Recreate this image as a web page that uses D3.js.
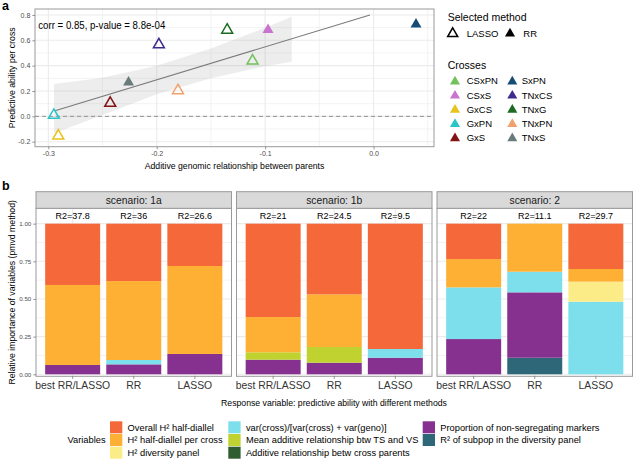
<!DOCTYPE html>
<html><head><meta charset="utf-8">
<script src="https://cdn.jsdelivr.net/npm/d3@7"></script>
<style>
html,body{margin:0;padding:0;background:#fff;}
text{font-family:"Liberation Sans",Arial,Helvetica,sans-serif;}
</style></head>
<body><div id="chart"></div>
<script>
// ---------------- Panel a data ----------------
const crosses = ["CSxPN","CSxS","GxCS","GxPN","GxS","SxPN","TNxCS","TNxG","TNxPN","TNxS"];
const crossColors = ["#72c15a","#c874cf","#e7c31d","#28c5c9","#821416","#164c74","#402b8d","#1d6b23","#f1a26c","#6a7b7b"];
const relationship = [-0.1116,-0.0973,-0.2908,-0.2949,-0.2429,0.0392,-0.198,-0.135,-0.1804,-0.226];
const predAbility = [0.438,0.683,-0.154,0.009,0.104,0.726,0.566,0.681,0.204,0.269];
const selectedMethod = ["LASSO","RR","LASSO","LASSO","LASSO","RR","LASSO","LASSO","LASSO","RR"];
const fitX = [-0.2938,-0.0033];
const fitY = [0.044,0.80];
const ribbonX = [-0.2947,-0.25,-0.2,-0.15,-0.1,-0.0755];
const ribbonLower = [-0.134,0.01,0.175,0.30,0.395,0.431];
const ribbonUpper = [0.255,0.305,0.40,0.535,0.70,0.786];
const xTicksA = [-0.3,-0.2,-0.1,0.0];
const yTicksA = [-0.2,0.0,0.2,0.4,0.6,0.8];
const corrLabel = "corr = 0.85, p-value = 8.8e-04";

// ---------------- Panel b data ----------------
const scenarios = ["scenario: 1a","scenario: 1b","scenario: 2"];
const methods = ["best RR/LASSO","RR","LASSO"];
const r2Values = [[37.8,36,26.6],[21,24.5,9.5],[22,11.1,29.7]];
const variables = ["Overall H² half-diallel","H² half-diallel per cross","H² diversity panel",
  "var(cross)/[var(cross) + var(geno)]","Mean additive relationship btw TS and VS",
  "Additive relationship betw cross parents","Proportion of non-segregating markers",
  "R² of subpop in the diversity panel"];
const varColors = ["#f4683a","#fdb033","#fbec88","#7cdfeb","#bfd22f","#2f5d31","#86318f","#2e6878"];
// importance per variable; each row = 9 bars (1a: best,RR,LASSO | 1b: ... | 2: ...)
const vOverall    = [0.407,0.381,0.281, 0.620,0.469,0.832, 0.235,0.000,0.301];
const vH2Cross    = [0.531,0.524,0.584, 0.234,0.350,0.000, 0.188,0.319,0.084];
const vH2Div      = [0,0,0, 0,0,0, 0,0,0.133];
const vVarCross   = [0,0.029,0, 0,0,0.058, 0.343,0.137,0.482];
const vMeanAdd    = [0,0,0, 0.049,0.104,0, 0,0,0];
const vAddParents = [0,0,0, 0,0,0, 0,0,0];
const vPropNonSeg = [0.062,0.066,0.135, 0.097,0.077,0.110, 0.234,0.434,0];
const vR2Subpop   = [0,0,0, 0,0,0, 0,0.110,0];
const varValues = [vOverall,vH2Cross,vH2Div,vVarCross,vMeanAdd,vAddParents,vPropNonSeg,vR2Subpop];
const yTicksB = [0,0.25,0.5,0.75,1];

// ---------------- drawing ----------------
const W = 634, H = 462;
const svg = d3.select("#chart").append("svg").attr("width",W).attr("height",H)
  .style("display","block");
const borderCol = "#9a9a9a", gridCol = "#ebebeb", tickTextCol = "#4d4d4d";

function styleAxis(g, fs){
  g.select(".domain").remove();
  g.selectAll(".tick line").attr("stroke","#555").attr("stroke-width",0.6);
  g.selectAll(".tick text").attr("fill",tickTextCol).style("font-size",fs+"px");
}

// panel labels
svg.append("text").attr("x",2).attr("y",10).text("a").style("font-size","12.5px").style("font-weight","bold");
svg.append("text").attr("x",2).attr("y",190).text("b").style("font-size","12.5px").style("font-weight","bold");

// ===== Panel a =====
const pa = {l:35,t:9,r:434,b:146.7};
const xA = d3.scaleLinear().domain([-0.3123,0.0558]).range([pa.l,pa.r]);
const yA = d3.scaleLinear().domain([-0.2395,0.847]).range([pa.b,pa.t]);
const gA = svg.append("g");
svg.append("clipPath").attr("id","clipA").append("rect")
  .attr("x",pa.l).attr("y",pa.t).attr("width",pa.r-pa.l).attr("height",pa.b-pa.t);

// minor grid
const xMinorA = [-0.25,-0.15,-0.05,0.05], yMinorA = [-0.1,0.1,0.3,0.5,0.7];
gA.selectAll(".xmin").data(xMinorA).join("line").attr("x1",d=>xA(d)).attr("x2",d=>xA(d))
  .attr("y1",pa.t).attr("y2",pa.b).attr("stroke",gridCol).attr("stroke-width",0.6);
gA.selectAll(".ymin").data(yMinorA).join("line").attr("y1",d=>yA(d)).attr("y2",d=>yA(d))
  .attr("x1",pa.l).attr("x2",pa.r).attr("stroke",gridCol).attr("stroke-width",0.6);
gA.selectAll(".xmaj").data(xTicksA).join("line").attr("x1",d=>xA(d)).attr("x2",d=>xA(d))
  .attr("y1",pa.t).attr("y2",pa.b).attr("stroke",gridCol).attr("stroke-width",1.1);
gA.selectAll(".ymaj").data(yTicksA).join("line").attr("y1",d=>yA(d)).attr("y2",d=>yA(d))
  .attr("x1",pa.l).attr("x2",pa.r).attr("stroke",gridCol).attr("stroke-width",1.1);

const inner = gA.append("g").attr("clip-path","url(#clipA)");
// zero line
inner.append("line").attr("x1",pa.l).attr("x2",pa.r).attr("y1",yA(0)).attr("y2",yA(0))
  .attr("stroke","#6a6a6a").attr("stroke-width",0.7).attr("stroke-dasharray","4,3");
// ribbon
const ribbonData = ribbonX.map((x,i)=>({x,lo:ribbonLower[i],hi:ribbonUpper[i]}));
inner.append("path").datum(ribbonData)
  .attr("d",d3.area().x(d=>xA(d.x)).y0(d=>yA(d.lo)).y1(d=>yA(d.hi)))
  .attr("fill","#999").attr("fill-opacity",0.18);
// fit line
inner.append("path").datum(fitX.map((x,i)=>({x,y:fitY[i]})))
  .attr("d",d3.line().x(d=>xA(d.x)).y(d=>yA(d.y)))
  .attr("stroke","#7a7a7a").attr("stroke-width",1.1).attr("fill","none");
// points
const tri = d3.symbol().type(d3.symbolTriangle).size(52);
const pts = crosses.map((c,i)=>({c,col:crossColors[i],x:relationship[i],y:predAbility[i],m:selectedMethod[i]}));
inner.selectAll(".pt").data(pts).join("path")
  .attr("transform",d=>`translate(${xA(d.x)},${yA(d.y)})`)
  .attr("d",tri)
  .attr("fill",d=>d.m==="RR"?d.col:"none")
  .attr("stroke",d=>d.m==="RR"?"none":d.col)
  .attr("stroke-width",1.5);
// corr text
gA.append("text").attr("x",38.3).attr("y",29.3).text(corrLabel)
  .style("font-size","10px").attr("textLength",127).attr("lengthAdjust","spacingAndGlyphs");
// border
gA.append("rect").attr("x",pa.l).attr("y",pa.t).attr("width",pa.r-pa.l).attr("height",pa.b-pa.t)
  .attr("fill","none").attr("stroke",borderCol).attr("stroke-width",1);
// axes
const axXA = svg.append("g").attr("transform",`translate(0,${pa.b})`)
  .call(d3.axisBottom(xA).tickValues(xTicksA).tickSize(2.7).tickPadding(2).tickFormat(d=>d.toFixed(1)));
styleAxis(axXA,7);
const axYA = svg.append("g").attr("transform",`translate(${pa.l},0)`)
  .call(d3.axisLeft(yA).tickValues(yTicksA).tickSize(2.7).tickPadding(2).tickFormat(d=>d.toFixed(1)));
styleAxis(axYA,7);
svg.append("text").attr("x",(pa.l+pa.r)/2).attr("y",168.5).attr("text-anchor","middle")
  .style("font-size","8.7px").text("Additive genomic relationship between parents");
svg.append("text").attr("transform",`translate(14.5,${(pa.t+pa.b)/2}) rotate(-90)`).attr("text-anchor","middle")
  .style("font-size","8.7px").text("Predictive ability per cross");

// legend a
const lgA = svg.append("g");
lgA.append("text").attr("x",447.7).attr("y",21).text("Selected method").style("font-size","10.5px");
const legTri = d3.symbol().type(d3.symbolTriangle).size(44);
const methodLeg = [{m:"LASSO",tx:452.7,lx:466.7},{m:"RR",tx:510,lx:523.3}];
methodLeg.forEach(d=>{
  lgA.append("path").attr("transform",`translate(${d.tx},33.6)`).attr("d",legTri)
    .attr("fill",d.m==="RR"?"#000":"none").attr("stroke",d.m==="RR"?"none":"#000").attr("stroke-width",1.5);
  lgA.append("text").attr("x",d.lx).attr("y",33.3).attr("dy","0.35em").text(d.m).style("font-size","9.5px");
});
lgA.append("text").attr("x",447.7).attr("y",68.7).text("Crosses").style("font-size","10.5px");
crosses.forEach((c,i)=>{
  const col = Math.floor(i/5), row = i%5;
  const cy = 81 + row*14.2;
  const tx = col===0?455:512.3, lx = col===0?466.7:521.7;
  lgA.append("path").attr("transform",`translate(${tx},${cy+0.5})`).attr("d",legTri).attr("fill",crossColors[i]);
  lgA.append("text").attr("x",lx).attr("y",cy).attr("dy","0.35em").text(c).style("font-size","9.5px");
});

// ===== Panel b =====
const pb = {t:208.3,b:376.3,stripT:191.7};
const panelLefts = [36,236.5,437], panelW = 195.5;
const yB = d3.scaleLinear().domain([-0.0133,1.102]).range([pb.b,pb.t]);
const barsData = [];
for(let p=0;p<3;p++){ for(let j=0;j<3;j++){
  const row = {panel:p, method:methods[j]};
  variables.forEach((v,k)=>{ row[v] = varValues[k][p*3+j]; });
  barsData.push(row);
}}
// stack order: last variable at bottom
const stackGen = d3.stack().keys(variables.slice().reverse());
const series = stackGen(barsData);

const yMinorB = [0.125,0.375,0.625,0.875];
scenarios.forEach((s,p)=>{
  const x0 = panelLefts[p];
  const xB = d3.scaleBand().domain(methods).range([x0,x0+panelW]).paddingInner(0.1).paddingOuter(0.15);
  const g = svg.append("g");
  // grid
  g.selectAll(".ym").data(yMinorB).join("line").attr("x1",x0).attr("x2",x0+panelW)
    .attr("y1",d=>yB(d)).attr("y2",d=>yB(d)).attr("stroke",gridCol).attr("stroke-width",0.6);
  g.selectAll(".yM").data(yTicksB).join("line").attr("x1",x0).attr("x2",x0+panelW)
    .attr("y1",d=>yB(d)).attr("y2",d=>yB(d)).attr("stroke",gridCol).attr("stroke-width",1.1);
  g.selectAll(".xM").data(methods).join("line").attr("x1",d=>xB(d)+xB.bandwidth()/2).attr("x2",d=>xB(d)+xB.bandwidth()/2)
    .attr("y1",pb.t).attr("y2",pb.b).attr("stroke",gridCol).attr("stroke-width",1.1);
  // bars
  series.forEach(ser=>{
    const ci = variables.indexOf(ser.key);
    g.selectAll(null).data(ser.filter(d=>d.data.panel===p && d[1]-d[0]>0)).join("rect")
      .attr("x",d=>xB(d.data.method)).attr("width",xB.bandwidth())
      .attr("y",d=>yB(d[1])).attr("height",d=>yB(d[0])-yB(d[1]))
      .attr("fill",varColors[ci]);
  });
  // R2 labels
  g.selectAll(".r2").data(methods).join("text")
    .attr("x",d=>xB(d)+xB.bandwidth()/2).attr("y",yB(1.05)).attr("dy","0.35em")
    .attr("text-anchor","middle").style("font-size","9px")
    .text((d,j)=>"R2="+r2Values[p][j]);
  // border
  g.append("rect").attr("x",x0).attr("y",pb.t).attr("width",panelW).attr("height",pb.b-pb.t)
    .attr("fill","none").attr("stroke",borderCol).attr("stroke-width",1);
  // strip
  g.append("rect").attr("x",x0).attr("y",pb.stripT).attr("width",panelW).attr("height",pb.t-pb.stripT)
    .attr("fill","#d9d9d9").attr("stroke",borderCol).attr("stroke-width",1);
  g.append("text").attr("x",x0+panelW/2).attr("y",(pb.stripT+pb.t)/2).attr("dy","0.35em")
    .attr("text-anchor","middle").style("font-size","10.3px").attr("fill","#1a1a1a").text(s);
  // x axis
  const ax = svg.append("g").attr("transform",`translate(0,${pb.b})`)
    .call(d3.axisBottom(xB).tickSize(2.7).tickPadding(3));
  styleAxis(ax,10.4);
  ax.selectAll(".tick text").attr("fill","#333");
});
const axYB = svg.append("g").attr("transform",`translate(${panelLefts[0]},0)`)
  .call(d3.axisLeft(yB).tickValues(yTicksB).tickSize(2.7).tickPadding(2).tickFormat(d3.format(".2f")));
styleAxis(axYB,6.2);
svg.append("text").attr("x",334).attr("y",405.5).attr("text-anchor","middle")
  .style("font-size","8.7px").text("Response variable: predictive ability with different methods");
svg.append("text").attr("transform",`translate(14.5,${(pb.t+pb.b)/2}) rotate(-90)`).attr("text-anchor","middle")
  .style("font-size","8.7px").text("Relative importance of variables (pmvd method)");

// legend b
const lgB = svg.append("g");
lgB.append("text").attr("x",105.6).attr("y",440).attr("dy","0.35em").attr("text-anchor","end")
  .style("font-size","9.3px").text("Variables");
const colKeyX = [110,228.3,422.7];
variables.forEach((v,i)=>{
  const col = Math.floor(i/3), row = i%3;
  const cy = 427.3 + row*12.7;
  lgB.append("rect").attr("x",colKeyX[col]).attr("y",cy-6).attr("width",12.3).attr("height",12)
    .attr("fill",varColors[i]);
  lgB.append("text").attr("x",colKeyX[col]+17.6).attr("y",cy).attr("dy","0.35em")
    .style("font-size","9.3px").text(v);
});
</script>
</body></html>
